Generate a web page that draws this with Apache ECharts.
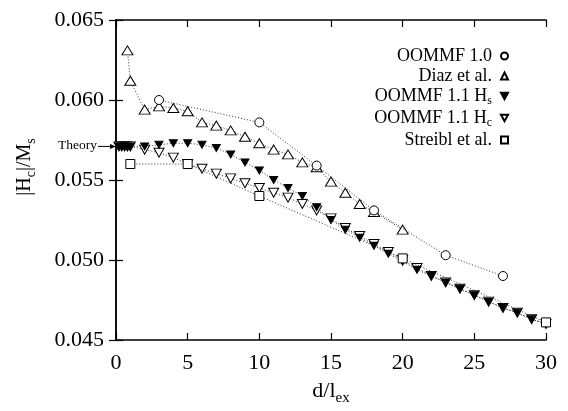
<!DOCTYPE html>
<html>
<head>
<meta charset="utf-8">
<script src="https://cdn.jsdelivr.net/npm/echarts@6/dist/echarts.min.js"></script>
<style>
  html, body { margin: 0; padding: 0; background: #fff; }
  #chart { width: 568px; height: 411px; }
</style>
</head>
<body>
<div id="chart"></div>
<script>
// values
const oommf10X = [3, 10, 14, 18, 23, 27];
const oommf10Y = [0.0600, 0.0586, 0.0559, 0.0531, 0.0503, 0.0490];

const diazX = [0.8, 1, 2, 3, 4, 5, 6, 7, 8, 9, 10, 11, 12, 13, 14, 15, 16, 17, 18, 20];
const diazY = [0.0631, 0.0612, 0.0594, 0.0596, 0.0595, 0.0593, 0.0586, 0.0584, 0.0581, 0.0577,
  0.0573, 0.0569, 0.0566, 0.0561, 0.0558, 0.0549, 0.0542, 0.0535, 0.0530, 0.0519];

const oommf11X = [0.2, 0.4, 0.6, 0.8, 1, 2, 3, 4, 5, 6, 7, 8, 9, 10, 11, 12, 13, 14, 15,
  16, 17, 18, 19, 20, 21, 22, 23, 24, 25, 26, 27, 28, 29, 30];
const hsY = [0.0571, 0.0571, 0.0571, 0.0571, 0.0571, 0.0571, 0.0572, 0.0573, 0.0573, 0.0572,
  0.0570, 0.0566, 0.0561, 0.0556, 0.0550, 0.0545, 0.0540, 0.0533, 0.0525, 0.0519, 0.0514,
  0.0509, 0.0504, 0.0499, 0.0494, 0.0490, 0.0486, 0.0482, 0.0478, 0.0474, 0.0470, 0.0467,
  0.0463, 0.0460];
const hcY = [0.0571, 0.0571, 0.0571, 0.0571, 0.0571, 0.0569, 0.0567, 0.0564, 0.0560, 0.0557,
  0.0554, 0.0551, 0.0548, 0.0545, 0.0542, 0.0539, 0.0535, 0.0531, 0.0526, 0.0520, 0.0515,
  0.0510, 0.0505, 0.0500, 0.0495, 0.0490, 0.0486, 0.0482, 0.0478, 0.0474, 0.0470, 0.0467,
  0.0463, 0.0460];

const streiblX = [1, 5, 10, 20, 30];
const streiblY = [0.0560, 0.0560, 0.0540, 0.0501, 0.0461];

const theory = 0.0571;

const FONT = "'Liberation Serif', 'DejaVu Serif', serif";
const downTri = "path://M0,0L10,0L5,9Z";

function pairs(xs, ys) {
  return xs.map((x, i) => [x, ys[i]]);
}

const dotted = { color: "#333", width: 1, type: [1, 2] };
const openStyle = { color: "#fff", borderColor: "#000", borderWidth: 1 };

const chart = echarts.init(document.getElementById("chart"));

const hiddenAxis = {
  type: "value",
  min: 0, max: 30, interval: 5,
  axisLine: { show: true, lineStyle: { color: "#000", width: 1.5 } },
  axisTick: { show: true, inside: true, length: 7, lineStyle: { color: "#000", width: 1.2 } },
  axisLabel: { show: false },
  splitLine: { show: false }
};

chart.setOption({
  animation: false,
  backgroundColor: "#fff",
  textStyle: { fontFamily: FONT, color: "#000" },
  grid: { left: 116, right: 22, top: 20, bottom: 71 },
  xAxis: [
    {
      type: "value",
      min: 0, max: 30, interval: 5,
      name: "{n|d/l}{s|ex}",
      nameLocation: "middle",
      nameGap: 37,
      nameTextStyle: {
        rich: {
          n: { fontFamily: FONT, fontSize: 22, color: "#000" },
          s: { fontFamily: FONT, fontSize: 15, color: "#000", padding: [14, 0, 0, 0] }
        }
      },
      axisLine: { lineStyle: { color: "#000", width: 1.5 } },
      axisTick: { inside: true, length: 7, lineStyle: { color: "#000", width: 1.2 } },
      axisLabel: { fontFamily: FONT, fontSize: 22, color: "#000", margin: 12 },
      splitLine: { show: false }
    },
    Object.assign({}, hiddenAxis, { position: "top" })
  ],
  yAxis: [
    {
      type: "value",
      min: 0.045, max: 0.065, interval: 0.005,
      name: "{n||H}{s|c}{n||/M}{s|s}",
      nameLocation: "middle",
      nameRotate: 90,
      nameGap: 78,
      nameTextStyle: {
        padding: [0, 0, 0, 26],
        rich: {
          n: { fontFamily: FONT, fontSize: 20, color: "#000" },
          s: { fontFamily: FONT, fontSize: 14, color: "#000", padding: [12, 0, 0, 0] }
        }
      },
      axisLine: { lineStyle: { color: "#000", width: 1.5 } },
      axisTick: { inside: true, length: 7, lineStyle: { color: "#000", width: 1.2 } },
      axisLabel: {
        fontFamily: FONT, fontSize: 22, color: "#000", margin: 12,
        formatter: (v) => v.toFixed(3)
      },
      splitLine: { show: false }
    },
    Object.assign({}, hiddenAxis, { min: 0.045, max: 0.065, interval: 0.005, position: "right" })
  ],
  legend: {
    right: 54,
    top: 42,
    orient: "vertical",
    align: "right",
    itemWidth: 7,
    itemHeight: 7,
    itemGap: 2,
    data: [
      { name: "OOMMF 1.0", icon: "circle" },
      { name: "Diaz et al.", icon: "triangle" },
      { name: "OOMMF 1.1 Hs", icon: downTri },
      { name: "OOMMF 1.1 Hc", icon: downTri },
      { name: "Streibl et al.", icon: "rect" }
    ],
    formatter: (name) => name.replace(/H([sc])$/, "{n|H}{s|$1}"),
    textStyle: {
      fontFamily: FONT, fontSize: 18, color: "#000", padding: [0, 4, 0, 0],
      rich: {
        n: { fontFamily: FONT, fontSize: 18, color: "#000" },
        s: { fontFamily: FONT, fontSize: 12, color: "#000", padding: [10, 0, 0, 0] }
      }
    }
  },
  series: [
    {
      name: "OOMMF 1.1 Hc",
      type: "line",
      data: pairs(oommf11X, hcY),
      symbol: downTri,
      symbolSize: [10, 9],
      itemStyle: openStyle,
      lineStyle: dotted,
      z: 2
    },
    {
      name: "OOMMF 1.1 Hs",
      type: "line",
      data: pairs(oommf11X, hsY),
      symbol: downTri,
      symbolSize: [8, 7],
      itemStyle: { color: "#000", borderColor: "#000", borderWidth: 1 },
      lineStyle: dotted,
      z: 3
    },
    {
      name: "Diaz et al.",
      type: "line",
      data: pairs(diazX, diazY),
      symbol: "triangle",
      symbolSize: [11, 9],
      itemStyle: openStyle,
      lineStyle: dotted,
      z: 4
    },
    {
      name: "OOMMF 1.0",
      type: "line",
      data: pairs(oommf10X, oommf10Y),
      symbol: "circle",
      symbolSize: 9,
      itemStyle: openStyle,
      lineStyle: dotted,
      z: 5
    },
    {
      name: "Streibl et al.",
      type: "line",
      data: pairs(streiblX, streiblY),
      symbol: "rect",
      symbolSize: 9,
      itemStyle: openStyle,
      lineStyle: dotted,
      z: 6
    }
  ]
});

// "Theory" pointer at the left axis
const p = chart.convertToPixel({ xAxisIndex: 0, yAxisIndex: 0 }, [0, theory]);
chart.setOption({
  graphic: [
    {
      type: "text",
      left: p[0] - 58, top: p[1] - 8,
      style: { text: "Theory", font: "13.5px " + FONT, fill: "#000" }
    },
    {
      type: "line",
      shape: { x1: p[0] - 18, y1: p[1], x2: p[0] - 5, y2: p[1] },
      style: { stroke: "#000", lineWidth: 1 }
    },
    {
      type: "polygon",
      shape: { points: [[p[0], p[1]], [p[0] - 6, p[1] - 2.5], [p[0] - 6, p[1] + 2.5]] },
      style: { fill: "#000" }
    }
  ]
});
</script>
</body>
</html>
